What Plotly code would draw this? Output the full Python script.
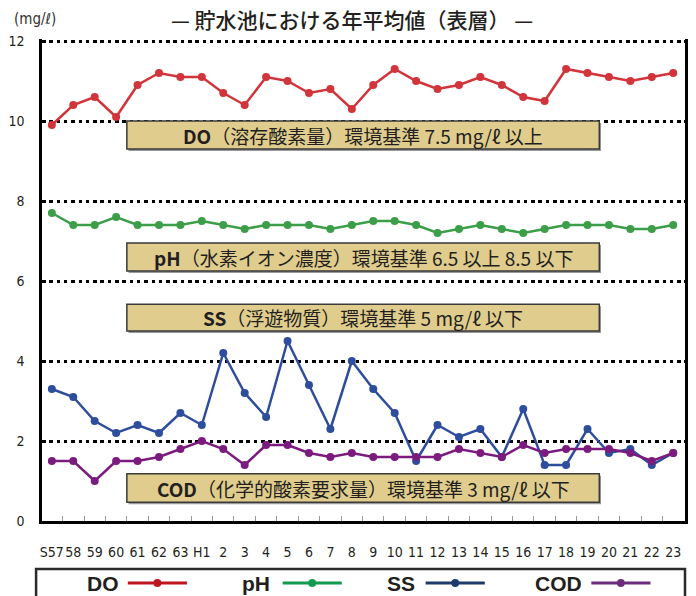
import plotly.graph_objects as go

# ---- data ----
years = ["S57", "58", "59", "60", "61", "62", "63", "H1", "2", "3", "4", "5", "6", "7", "8",
         "9", "10", "11", "12", "13", "14", "15", "16", "17", "18", "19", "20", "21", "22", "23"]
do_vals = [9.9, 10.4, 10.6, 10.1, 10.9, 11.2, 11.1, 11.1, 10.7, 10.4, 11.1, 11.0, 10.7, 10.8, 10.3,
           10.9, 11.3, 11.0, 10.8, 10.9, 11.1, 10.9, 10.6, 10.5, 11.3, 11.2, 11.1, 11.0, 11.1, 11.2]
ph_vals = [7.7, 7.4, 7.4, 7.6, 7.4, 7.4, 7.4, 7.5, 7.4, 7.3, 7.4, 7.4, 7.4, 7.3, 7.4,
           7.5, 7.5, 7.4, 7.2, 7.3, 7.4, 7.3, 7.2, 7.3, 7.4, 7.4, 7.4, 7.3, 7.3, 7.4]
ss_vals = [3.3, 3.1, 2.5, 2.2, 2.4, 2.2, 2.7, 2.4, 4.2, 3.2, 2.6, 4.5, 3.4, 2.3, 4.0,
           3.3, 2.7, 1.5, 2.4, 2.1, 2.3, 1.6, 2.8, 1.4, 1.4, 2.3, 1.7, 1.8, 1.4, 1.7]
cod_vals = [1.5, 1.5, 1.0, 1.5, 1.5, 1.6, 1.8, 2.0, 1.8, 1.4, 1.9, 1.9, 1.7, 1.6, 1.7,
            1.6, 1.6, 1.6, 1.6, 1.8, 1.7, 1.6, 1.9, 1.7, 1.8, 1.8, 1.8, 1.7, 1.5, 1.7]

series_names = ["DO", "pH", "SS", "COD"]
series_colors = ["#d1343a", "#3d9e4a", "#2e4d9c", "#7b1b7e"]
legend_colors = ["#c0141e", "#139a50", "#1e3a6a", "#6b2c7e"]

standard_labels = [
    "<b>DO</b>（溶存酸素量）環境基準 7.5 mg/ℓ 以上",
    "<b>pH</b>（水素イオン濃度）環境基準 6.5 以上 8.5 以下",
    "<b>SS</b>（浮遊物質）環境基準 5 mg/ℓ 以下",
    "<b>COD</b>（化学的酸素要求量）環境基準 3 mg/ℓ 以下",
]

title_text = "— 貯水池における年平均値（表層） —"
unit_text = "(mg/ℓ)"

# ---- layout constants (pixels) ----
W, H = 696, 596
ML, MR, MT, MB = 36, 8, 39, 75
PW, PH = W - ML - MR, H - MT - MB
JP = "Noto Sans CJK JP, Noto Sans, sans-serif"
NARROW = "Liberation Sans Narrow, DejaVu Sans Condensed, Liberation Sans, sans-serif"


def px(x):
    return (x - ML) / PW


def py(y):
    return (H - MB - y) / PH


fig = go.Figure()
for name, vals, col in zip(series_names, [do_vals, ph_vals, ss_vals, cod_vals], series_colors):
    fig.add_trace(go.Scatter(
        x=list(range(len(years))), y=vals, name=name, mode="lines+markers",
        line=dict(color=col, width=2.5), marker=dict(color=col, size=8),
        showlegend=False, cliponaxis=False,
    ))

shapes = []
annotations = []

# standard boxes (data coords)
box_x = (3.5, 25.55)
box_y = [(9.3, 10.0), (6.25, 6.95), (4.75, 5.42), (0.47, 1.18)]
for (y0, y1), label in zip(box_y, standard_labels):
    shapes.append(dict(type="rect", xref="x", yref="y", x0=box_x[0] + 0.08, x1=box_x[1] + 0.08,
                       y0=y0 - 0.05, y1=y1 - 0.05, fillcolor="#9a9a9a", line=dict(width=0),
                       layer="above"))
    shapes.append(dict(type="rect", xref="x", yref="y", x0=box_x[0], x1=box_x[1],
                       y0=y0, y1=y1, fillcolor="#e0cc8c", line=dict(color="#3a3a3a", width=1.5),
                       layer="above"))
    annotations.append(dict(x=sum(box_x) / 2, y=(y0 + y1) / 2, xref="x", yref="y",
                            xanchor="center", yanchor="middle",
                            text=label, showarrow=False,
                            font=dict(family=JP, size=19, color="#231f20")))

# title and unit
annotations.append(dict(x=px(350), y=py(19), xref="paper", yref="paper", text=title_text,
                        xanchor="center", yanchor="middle",
                        showarrow=False, font=dict(family=JP, size=21, color="#231f20", weight=500)))
annotations.append(dict(x=px(6), y=py(19), xref="paper", yref="paper", text=unit_text,
                        xanchor="left", yanchor="middle", showarrow=False,
                        font=dict(family=NARROW, size=15, color="#333333")))

# custom legend (text, then line with dot)
shapes.append(dict(type="rect", xref="paper", yref="paper", x0=px(30), x1=px(688),
                   y0=py(603), y1=py(569), line=dict(color="#2a2a2a", width=2.5),
                   fillcolor="white", layer="above"))
legend_text_right = [116, 269, 416, 586]
legend_line = [(123, 183), (280, 340), (425, 485), (593, 653)]
for name, col, tr, (l0, l1) in zip(series_names, legend_colors, legend_text_right, legend_line):
    annotations.append(dict(x=px(tr), y=py(583), xref="paper", yref="paper", text="<b>%s</b>" % name,
                            xanchor="right", yanchor="middle", showarrow=False,
                            font=dict(family="Liberation Sans, sans-serif", size=21, color="#231f20")))
    shapes.append(dict(type="line", xref="paper", yref="paper", x0=px(l0), x1=px(l1),
                       y0=py(583), y1=py(583), line=dict(color=col, width=3), layer="above"))
    cx = (l0 + l1) / 2
    shapes.append(dict(type="circle", xref="paper", yref="paper", x0=px(cx - 4), x1=px(cx + 4),
                       y0=py(587), y1=py(579), fillcolor=col, line=dict(width=0), layer="above"))

fig.update_layout(
    width=W, height=H,
    margin=dict(l=ML, r=MR, t=MT, b=MB, pad=0),
    paper_bgcolor="white", plot_bgcolor="white",
    shapes=shapes, annotations=annotations,
    showlegend=False,
    xaxis=dict(
        type="linear", range=[-0.46, 29.55],
        tickmode="array", tickvals=list(range(len(years))), ticktext=years,
        tickangle=0,
        showgrid=False, zeroline=False,
        showline=True, linecolor="black", linewidth=2.5,
        ticks="", ticklabelstandoff=16,
        tickfont=dict(family=NARROW, size=14, color="#231f20"),
        minor=dict(tickmode="array", tickvals=[i + 0.5 for i in range(len(years) - 1)],
                   ticks="inside", ticklen=5, tickcolor="#999999", tickwidth=1, showgrid=False),
    ),
    yaxis=dict(
        range=[0, 12.05], tickvals=[0, 2, 4, 6, 8, 10, 12],
        showgrid=True, gridcolor="black", gridwidth=2.5, griddash="3.5px,3.8px",
        zeroline=False,
        showline=True, linecolor="black", linewidth=2.5, mirror=True,
        ticks="", ticklabelstandoff=12,
        tickfont=dict(family=NARROW, size=14, color="#231f20"),
    ),
)

fig.write_html("out.html", config={"displayModeBar": False},
               post_script="document.body.style.margin='0';document.body.style.overflow='hidden';")
